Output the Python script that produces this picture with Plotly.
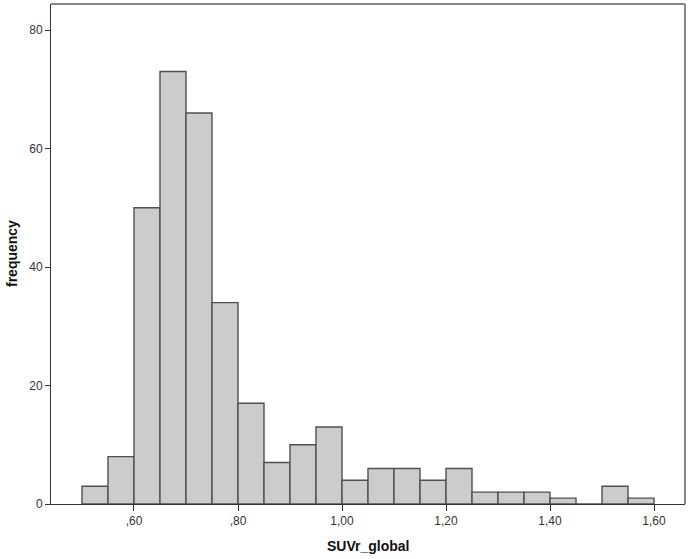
import plotly.graph_objects as go

bin_width = 0.05
bin_lower = [0.50, 0.55, 0.60, 0.65, 0.70, 0.75, 0.80, 0.85, 0.90, 0.95, 1.00,
             1.05, 1.10, 1.15, 1.20, 1.25, 1.30, 1.35, 1.40, 1.45, 1.50, 1.55]
counts = [3, 8, 50, 73, 66, 34, 17, 7, 10, 13, 4,
          6, 6, 4, 6, 2, 2, 2, 1, 0, 3, 1]

x_tickvals = [0.60, 0.80, 1.00, 1.20, 1.40, 1.60]
x_ticktext = [",60", ",80", "1,00", "1,20", "1,40", "1,60"]
y_tickvals = [0, 20, 40, 60, 80]

x_title = "SUVr_global"
y_title = "frequency"

fig = go.Figure(go.Bar(
    x=bin_lower, y=counts, width=bin_width, offset=0,
    marker=dict(color="#cccccc", line=dict(color="#505050", width=1.4)),
    hoverinfo="x+y",
))

font = dict(family="Liberation Sans, Arial, sans-serif", size=12, color="#333333")

fig.update_layout(
    width=689, height=559,
    margin=dict(l=51, r=4, t=4, b=55),
    paper_bgcolor="white", plot_bgcolor="white",
    showlegend=False,
    font=font,
    xaxis=dict(range=[0.4404, 1.6596], tickvals=x_tickvals, ticktext=x_ticktext,
               showgrid=False, zeroline=False, showline=True, linecolor="#333333",
               linewidth=1, ticks="outside", ticklen=6, tickcolor="#333333",
               tickfont=font),
    yaxis=dict(range=[0, 84.4], tickvals=y_tickvals, showgrid=False, zeroline=False,
               showline=True, linecolor="#333333", linewidth=1, ticks="outside",
               ticklen=5, tickcolor="#333333", tickfont=font),
    annotations=[
        dict(text="<b>" + x_title + "</b>", xref="paper", yref="paper", x=0.5, y=0,
             yshift=-42, showarrow=False, xanchor="center", yanchor="middle",
             font=dict(family="Liberation Sans, Arial, sans-serif", size=14, color="#111111")),
        dict(text="<b>" + y_title + "</b>", xref="paper", yref="paper", x=0, y=0.5,
             xshift=-39, showarrow=False, xanchor="center", yanchor="middle", textangle=-90,
             font=dict(family="Liberation Sans, Arial, sans-serif", size=14, color="#111111")),
    ],
    shapes=[
        dict(type="line", xref="paper", yref="paper", x0=0, x1=1, y0=1, y1=1,
             line=dict(color="#888888", width=2)),
        dict(type="line", xref="paper", yref="paper", x0=1, x1=1, y0=0, y1=1,
             line=dict(color="#888888", width=2)),
    ],
)

fig.write_html("out.html",
               config={"displayModeBar": False},
               post_script="document.body.style.margin='0';document.body.style.overflow='hidden';")
